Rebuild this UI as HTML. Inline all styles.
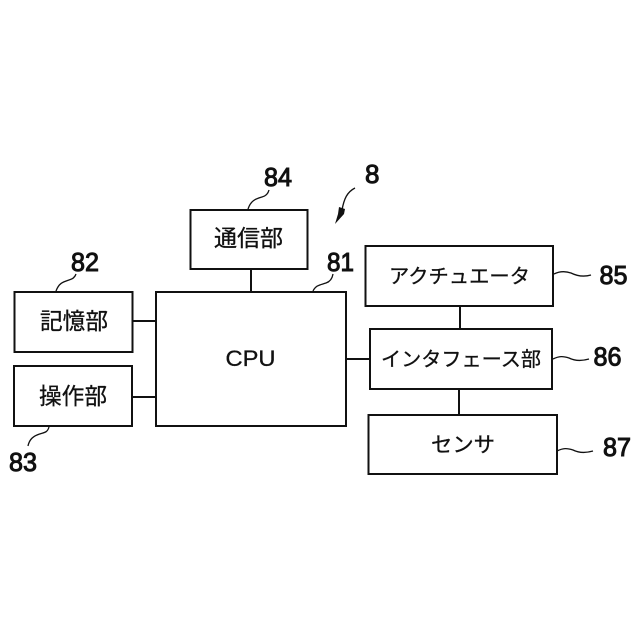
<!DOCTYPE html>
<html lang="ja">
<head>
<meta charset="utf-8">
<style>
html,body{margin:0;padding:0;background:#fff;width:640px;height:640px;overflow:hidden}
svg{display:block}
text{fill:#111}
.j{font-family:"Liberation Sans","Noto Sans CJK JP",sans-serif;text-anchor:start;stroke:#111;stroke-width:.3}
.n{font-family:"Liberation Sans",sans-serif;font-size:26px;stroke:#111;stroke-width:1}
rect,.l{fill:none;stroke:#111;stroke-width:2}
rect{fill:#fff}
.c{fill:none;stroke:#111;stroke-width:1.3}
</style>
</head>
<body>
<svg width="640" height="640" viewBox="0 0 640 640" xmlns="http://www.w3.org/2000/svg">
<path class="l" d="M251 269V292M133 321H156M132 397H156M346 359H370M460 306V329M459 389V415"/>
<rect x="190.5" y="210" width="117" height="59"/>
<rect x="14.5" y="292" width="118" height="60"/>
<rect x="14" y="366" width="118" height="60"/>
<rect x="156" y="292" width="190" height="134"/>
<rect x="365.5" y="246" width="187.500" height="60"/>
<rect x="370" y="329" width="182" height="60"/>
<rect x="368.500" y="415" width="188.500" height="59"/>

<text class="j" x="214" y="246" font-size="23" textLength="69" lengthAdjust="spacingAndGlyphs">通信部</text>
<text class="j" x="40" y="329" font-size="23" textLength="68" lengthAdjust="spacingAndGlyphs">記憶部</text>
<text class="j" x="39" y="404" font-size="23" textLength="68" lengthAdjust="spacingAndGlyphs">操作部</text>
<text class="j" x="225.500" y="366" font-size="22" textLength="50" lengthAdjust="spacingAndGlyphs">CPU</text>
<text class="j" x="389" y="283" font-size="20" textLength="141" lengthAdjust="spacingAndGlyphs">アクチュエータ</text>
<text class="j" x="381" y="366" font-size="20" textLength="160" lengthAdjust="spacingAndGlyphs">インタフェース部</text>
<text class="j" x="431" y="452" font-size="21" textLength="64" lengthAdjust="spacingAndGlyphs">センサ</text>

<text class="n" x="264" y="186" textLength="28" lengthAdjust="spacingAndGlyphs">84</text>
<text class="n" x="71" y="271" textLength="28" lengthAdjust="spacingAndGlyphs">82</text>
<text class="n" x="9" y="471" textLength="28" lengthAdjust="spacingAndGlyphs">83</text>
<text class="n" x="327" y="271" textLength="27" lengthAdjust="spacingAndGlyphs">81</text>
<text class="n" x="365" y="183">8</text>
<text class="n" x="599.500" y="284" textLength="28" lengthAdjust="spacingAndGlyphs">85</text>
<text class="n" x="593.500" y="365.500" textLength="28" lengthAdjust="spacingAndGlyphs">86</text>
<text class="n" x="603" y="456" textLength="28" lengthAdjust="spacingAndGlyphs">87</text>

<path class="c" d="M248 209C251 200 256 199 262 197C266 196 268 194 269 190"/>
<path class="c" d="M56 291C59 283 63 282 69 280C73 279 75 277 76 274"/>
<path class="c" d="M49 427C47 434 43 432 37 435C32 437 29 441 28 446"/>
<path class="c" d="M313 291C316 285 320 285 326 283C329 282 332 280 333 274"/>
<path class="c" d="M554 274C560 271 565 271 571 273C577 276 584 277 591 275"/>
<path class="c" d="M553 359C559 356 563 356 569 358C575 361 582 361 589 359"/>
<path class="c" d="M557 451C563 448 567 448 573 450C579 453 586 453 593 451"/>
<path class="c" d="M355 188C347 192 344 199 342 210"/>
<path d="M335 224L338 214L339 207L345 209L344 214Z" fill="#111"/>
</svg>
</body>
</html>
